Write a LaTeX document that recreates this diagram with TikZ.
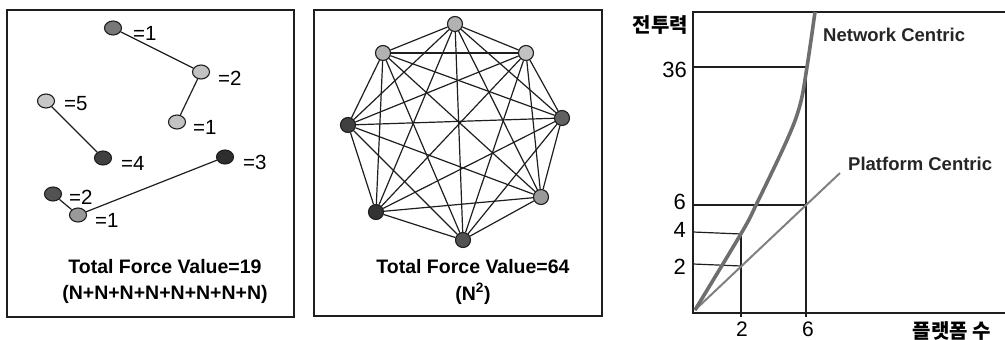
\documentclass[tikz,border=0pt]{standalone}
\usepackage{fontspec}
\setmainfont{Liberation Sans}
\newfontfamily\krfont{Noto Sans CJK KR}
\usetikzlibrary{shapes.geometric}
\definecolor{FVLine}{HTML}{1E1E1E}
\definecolor{FVCurve}{HTML}{6E6E6E}
\definecolor{FVPlat}{HTML}{808080}

\begin{document}
\begin{tikzpicture}[x=1pt,y=-1pt,
  unit/.style={ellipse,draw=FVLine,line width=1.1pt,minimum width=17pt,minimum height=14pt,inner sep=0pt},
  dot/.style={circle,draw=FVLine,line width=1.1pt,minimum size=15pt,inner sep=0pt},
  link/.style={FVLine,line width=1.2pt},
  val/.style={anchor=west,inner sep=0pt,font=\fontsize{20.5}{22}\selectfont},
  total/.style={inner sep=0pt,font=\bfseries\fontsize{19.5}{22}\selectfont},
  tick/.style={inner sep=0pt,font=\fontsize{22}{24}\selectfont},
  curvelabel/.style={anchor=west,inner sep=0pt,font=\bfseries\fontsize{18.5}{22}\selectfont,text=black!85},
  axislabel/.style={inner sep=0pt,font=\krfont\bfseries\fontsize{20}{22}\selectfont}]
\path[use as bounding box] (0,0) rectangle (1005,340);
% left panel: platform centric
\draw[FVLine,line width=1.3pt] (7,10) rectangle (294,317);
\node[unit,fill=black!53] (p1) at (113,28) {};
\node[unit,fill=black!24] (p2) at (201,72) {};
\node[unit,fill=black!24] (p3) at (177,122) {};
\node[unit,fill=black!22] (p4) at (46,101) {};
\node[unit,fill=black!75] (p5) at (103,158) {};
\node[unit,fill=black!82] (p6) at (225,157) {};
\node[unit,fill=black!68] (p7) at (53,194) {};
\node[unit,fill=black!40] (p8) at (78,215) {};
\draw[link] (p1) -- (p2) -- (p3);
\draw[link] (p4) -- (p5);
\draw[link] (p7) -- (p8) -- (p6);
\node[val] at (133,33) {=1};
\node[val] at (218,78) {=2};
\node[val] at (193,127) {=1};
\node[val] at (64,104) {=5};
\node[val] at (121,163) {=4};
\node[val] at (243,162) {=3};
\node[val] at (69,197) {=2};
\node[val] at (95,220) {=1};
\node[total] (t1) at (165,267) {Total Force Value=19};
\node[total] (t2) at (165,294) {(N+N+N+N+N+N+N+N)};
% middle panel: network centric
\draw[FVLine,line width=1.3pt] (314,10) rectangle (602,316);
\node[dot,fill=black!30] (m1) at (455,24) {};
\node[dot,fill=black!24] (m2) at (526,53) {};
\node[dot,fill=black!62] (m3) at (562,118) {};
\node[dot,fill=black!40] (m4) at (541,197) {};
\node[dot,fill=black!68] (m5) at (463,240) {};
\node[dot,fill=black!80] (m6) at (376,212) {};
\node[dot,fill=black!75] (m7) at (348,125) {};
\node[dot,fill=black!30] (m8) at (383,53) {};
\foreach \i in {1,...,7}{
  \pgfmathtruncatemacro\k{\i+1}
  \foreach \j in {\k,...,8}
    \draw[link] (m\i) -- (m\j);
}
\node[total] (t3) at (473,267) {Total Force Value=64};
\node[total] (t4) at (473,294) {(N\textsuperscript{2})};
% right panel: force vs. platforms
\coordinate (o) at (693,313);
\coordinate (ytop) at (693,12);
\coordinate (rtop) at (1005,12);
\coordinate (xend) at (1005,313);
\draw[FVLine,line width=1.3pt] (rtop) -- (ytop) -- (o) -- (xend);
\coordinate (y36) at (693,67);
\coordinate (y6) at (693,205);
\coordinate (y4) at (693,232);
\coordinate (y2) at (693,264);
\coordinate (c36) at (806,67);
\coordinate (c6) at (806,205);
\coordinate (c4) at (741,234);
\coordinate (c2) at (741,266);
\coordinate (x6) at (806,317);
\coordinate (x2) at (741,317);
\draw[link] (y36) -- (c36);
\draw[link] (y6) -- (c6);
\draw[link] (y4) -- (c4);
\draw[link] (y2) -- (c2);
\draw[link] (806,76) -- (x6);
\draw[link] (c4) -- (x2);
\draw[FVPlat,line width=2pt] (695,310) -- (840,173);
\draw[FVCurve,line width=3.6pt] plot[smooth,tension=0.6] coordinates
  {(695,310) (742,232) (757,203) (787,140) (800,105) (807,67) (815,12)};
\node[tick,anchor=east] (l36) at (687,70) {36};
\node[tick,anchor=east] (l6) at (686,202) {6};
\node[tick,anchor=east] (l4) at (686,230) {4};
\node[tick,anchor=east] (l2) at (686,267) {2};
\node[tick,font=\fontsize{21}{24}\selectfont] (b2) at (742,329) {2};
\node[tick,font=\fontsize{21}{24}\selectfont] (b6) at (808,329) {6};
\node[curvelabel] (nc) at (823,35) {Network Centric};
\node[curvelabel] (pc) at (848,164) {Platform Centric};
\node[axislabel,anchor=east] (yl) at (688,25) {전투력};
\node[axislabel] (xl) at (952,331) {플랫폼 수};
\end{tikzpicture}
\end{document}
